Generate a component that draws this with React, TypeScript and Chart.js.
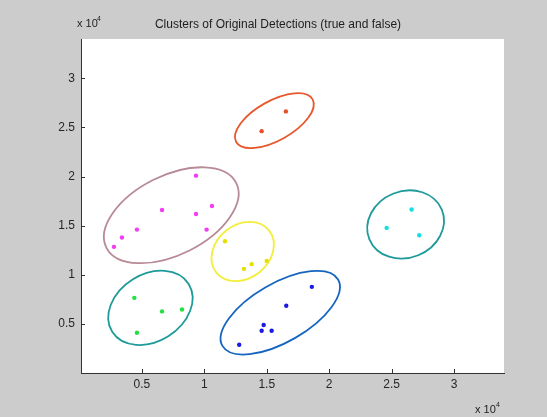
import React, { useEffect, useRef } from "react";
import { Chart, registerables } from "chart.js";

Chart.register(...registerables);

const titleText = "Clusters of Original Detections (true and false)";
const xTicks = [5000, 10000, 15000, 20000, 25000, 30000];
const yTicks = [5000, 10000, 15000, 20000, 25000, 30000];

const magentaPoints = [[9330, 20090], [6610, 16600], [10610, 17000], [9330, 16190], [10180, 14600], [4600, 14600], [3400, 13790], [2760, 12840]];
const orangePoints = [[16530, 26630], [14590, 24620]];
const yellowPoints = [[11650, 13410], [13170, 10600], [13790, 11080], [14990, 11410]];
const greenPoints = [[4390, 7650], [6610, 6270], [8210, 6470], [4600, 4100]];
const bluePoints = [[18610, 8770], [16560, 6840], [14750, 4880], [14590, 4300], [15390, 4300], [12790, 2880]];
const cyanPoints = [[26600, 16640], [24600, 14770], [27210, 14020]];

// cluster ellipses: centre and two conjugate half-axis vectors, in data units
const ellipseCenterX = [7350, 15610, 13070, 5680, 16080, 26120];
const ellipseCenterY = [16060, 25690, 12370, 6630, 6140, 15120];
const ellipseMajorX = [5200, 3060, 2110, 3060, 4630, 2900];
const ellipseMajorY = [3290, 2170, 2150, 2440, 3380, 1510];
const ellipseMinorX = [1420, 773, 1340, 1430, 1170, 1016];
const ellipseMinorY = [-3610, -1760, -2110, -2890, -2590, -3130];
const ellipseColors = ["#b88a96", "#e8582c", "#f2ee3c", "#1e9a9a", "#1565c0", "#1e9a9a"];

const pointSets = [magentaPoints, orangePoints, yellowPoints, greenPoints, bluePoints, cyanPoints];
const pointColors = ["#f23ef2", "#e8502a", "#e6e000", "#22e040", "#1a1ae6", "#12e0e0"];

const FONT = "'Liberation Sans', Arial, sans-serif";

const decorPlugin = {
  id: "decor",
  beforeDraw(chart: any) {
    const { ctx, chartArea } = chart;
    ctx.save();
    ctx.fillStyle = "#cccccc";
    ctx.fillRect(0, 0, chart.width, chart.height);
    ctx.fillStyle = "#ffffff";
    ctx.fillRect(chartArea.left, chartArea.top, chartArea.right - chartArea.left, chartArea.bottom - chartArea.top);
    ctx.restore();
  },
  beforeDatasetsDraw(chart: any) {
    const { ctx, chartArea } = chart;
    const xs = chart.scales.x;
    const ys = chart.scales.y;
    ctx.save();
    ctx.beginPath();
    ctx.rect(chartArea.left, chartArea.top, chartArea.right - chartArea.left, chartArea.bottom - chartArea.top);
    ctx.clip();
    for (let i = 0; i < ellipseCenterX.length; i++) {
      const cx = xs.getPixelForValue(ellipseCenterX[i]);
      const cy = ys.getPixelForValue(ellipseCenterY[i]);
      const ax = xs.getPixelForValue(ellipseCenterX[i] + ellipseMajorX[i]) - cx;
      const ay = ys.getPixelForValue(ellipseCenterY[i] + ellipseMajorY[i]) - cy;
      const bx = xs.getPixelForValue(ellipseCenterX[i] + ellipseMinorX[i]) - cx;
      const by = ys.getPixelForValue(ellipseCenterY[i] + ellipseMinorY[i]) - cy;
      ctx.save();
      ctx.beginPath();
      ctx.transform(ax, ay, bx, by, cx, cy);
      ctx.arc(0, 0, 1, 0, Math.PI * 2);
      ctx.closePath();
      ctx.restore();
      ctx.strokeStyle = ellipseColors[i];
      ctx.lineWidth = 1.8;
      ctx.stroke();
    }
    ctx.restore();
  },
  afterDraw(chart: any) {
    const { ctx, chartArea } = chart;
    const xs = chart.scales.x;
    const ys = chart.scales.y;
    ctx.save();
    ctx.strokeStyle = "#333333";
    ctx.lineWidth = 1;
    ctx.beginPath();
    xs.ticks.forEach((t: any) => {
      const p = Math.round(xs.getPixelForValue(t.value)) + 0.5;
      ctx.moveTo(p, chartArea.bottom);
      ctx.lineTo(p, chartArea.bottom - 4);
    });
    ys.ticks.forEach((t: any) => {
      const p = Math.round(ys.getPixelForValue(t.value)) + 0.5;
      ctx.moveTo(chartArea.left, p);
      ctx.lineTo(chartArea.left + 4, p);
    });
    ctx.stroke();

    ctx.fillStyle = "#1e1e1e";
    ctx.textBaseline = "alphabetic";
    ctx.font = "12px " + FONT;
    ctx.textAlign = "center";
    ctx.fillText(titleText, 278, 28);

    ctx.textAlign = "left";
    ctx.font = "11px " + FONT;
    ctx.fillText("x 10", 77, 27);
    ctx.font = "7px " + FONT;
    ctx.fillText("4", 97, 21);

    ctx.font = "11px " + FONT;
    ctx.fillText("x 10", 475, 413);
    ctx.font = "7px " + FONT;
    ctx.fillText("4", 496, 407);
    ctx.restore();
  },
};

const fmt = (v: number) => String(v / 10000);

export default function App() {
  const ref = useRef<HTMLCanvasElement>(null);
  useEffect(() => {
    if (!ref.current) return;
    const chart = new Chart(ref.current, {
      type: "scatter",
      data: {
        datasets: pointSets.map((pts, i) => ({
          data: pts.map(([x, y]) => ({ x, y })),
          backgroundColor: pointColors[i],
          borderColor: pointColors[i],
          pointRadius: 2.2,
          pointBorderWidth: 0,
        })),
      },
      options: {
        animation: false,
        responsive: false,
        events: [],
        layout: { padding: { top: 39, right: 43, left: 0, bottom: 0 } },
        plugins: { legend: { display: false }, tooltip: { enabled: false }, title: { display: false } },
        scales: {
          x: {
            type: "linear",
            min: 120,
            max: 34000,
            afterFit: (s: any) => { s.height = 44; },
            afterBuildTicks: (s: any) => { s.ticks = xTicks.map((v) => ({ value: v })); },
            grid: { display: false, drawTicks: false },
            border: { display: true, color: "#333333", width: 1 },
            ticks: {
              padding: 4,
              color: "#262626",
              font: { family: FONT, size: 12 },
              callback: (v: any) => fmt(Number(v)),
              maxRotation: 0,
            },
          },
          y: {
            type: "linear",
            min: 0,
            max: 34000,
            afterFit: (s: any) => { s.width = 81; },
            afterBuildTicks: (s: any) => { s.ticks = yTicks.map((v) => ({ value: v })); },
            grid: { display: false, drawTicks: false },
            border: { display: true, color: "#333333", width: 1 },
            ticks: {
              padding: 6,
              color: "#262626",
              font: { family: FONT, size: 12 },
              callback: (v: any) => fmt(Number(v)),
            },
          },
        },
      },
      plugins: [decorPlugin],
    });
    return () => chart.destroy();
  }, []);
  return (
    <div style={{ position: "fixed", left: 0, top: 0, width: 547, height: 417, background: "#cccccc" }}>
      <canvas ref={ref} width={547} height={417} style={{ display: "block" }} />
    </div>
  );
}
